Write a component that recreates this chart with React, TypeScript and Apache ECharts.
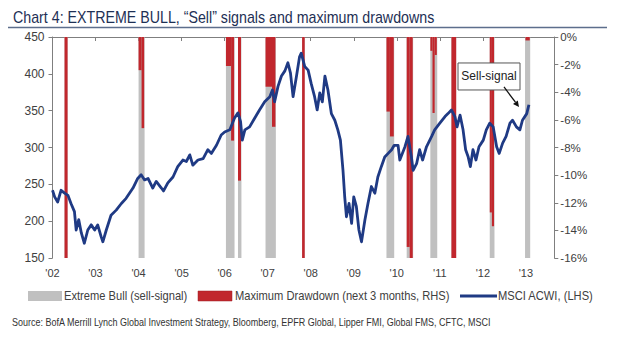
import React, { useEffect, useRef } from "react";
import * as echarts from "echarts";

// MSCI ACWI (LHS) – time in decimal years, index level
const lineYears = [
  2002.0, 2002.05, 2002.12, 2002.2, 2002.28, 2002.36, 2002.43, 2002.51, 2002.55, 2002.61, 2002.67, 2002.74,
  2002.82, 2002.9, 2002.98, 2003.05, 2003.13, 2003.17, 2003.25, 2003.36, 2003.48, 2003.6, 2003.71, 2003.87,
  2003.98, 2004.06, 2004.14, 2004.22, 2004.33, 2004.41, 2004.53, 2004.58, 2004.68, 2004.8, 2004.91, 2005.03,
  2005.11, 2005.19, 2005.26, 2005.38, 2005.5, 2005.61, 2005.69, 2005.81, 2005.92, 2006.0, 2006.12, 2006.23,
  2006.31, 2006.37, 2006.41, 2006.47, 2006.58, 2006.7, 2006.81, 2006.93, 2007.05, 2007.11, 2007.16, 2007.24,
  2007.32, 2007.4, 2007.47, 2007.53, 2007.59, 2007.67, 2007.74, 2007.78, 2007.86, 2007.94, 2008.01, 2008.09,
  2008.15, 2008.21, 2008.27, 2008.33, 2008.4, 2008.48, 2008.56, 2008.63, 2008.69, 2008.75, 2008.79, 2008.83,
  2008.89, 2008.95, 2009.0, 2009.06, 2009.12, 2009.18, 2009.26, 2009.33, 2009.41, 2009.49, 2009.56, 2009.64,
  2009.72, 2009.8, 2009.88, 2009.94, 2010.03, 2010.07, 2010.19, 2010.26, 2010.34, 2010.38, 2010.46, 2010.53,
  2010.6, 2010.69, 2010.81, 2010.88, 2011.0, 2011.12, 2011.19, 2011.27, 2011.35, 2011.4, 2011.47, 2011.54,
  2011.6, 2011.66, 2011.71, 2011.77, 2011.84, 2011.91, 2012.01, 2012.08, 2012.16, 2012.24, 2012.32, 2012.38,
  2012.46, 2012.54, 2012.63, 2012.69, 2012.78, 2012.86, 2012.92, 2013.02, 2013.07,
];
const lineValues = [
  242, 233, 226, 242, 238, 235, 224, 213, 188, 202, 184, 170,
  188, 195, 188, 195, 179, 172, 188, 208, 215, 224, 231, 245,
  258, 263, 256, 258, 245, 254, 245, 241, 252, 260, 274, 283,
  281, 290, 276, 283, 285, 297, 292, 303, 317, 321, 324, 340,
  347, 335, 310, 324, 328, 340, 351, 362, 369, 378, 362, 383,
  397, 404, 415, 401, 369, 397, 423, 428, 410, 405, 387, 369,
  351, 374, 362, 397, 378, 346, 337, 324, 310, 269, 233, 206,
  224, 197, 233, 220, 188, 172, 202, 224, 247, 238, 260, 274,
  287, 292, 297, 303, 303, 283, 301, 315, 287, 269, 278, 297,
  283, 301, 315, 324, 333, 342, 346, 351, 342, 328, 344, 324,
  297, 287, 274, 297, 283, 301, 310, 324, 333, 328, 301, 292,
  306, 315, 333, 337, 328, 324, 337, 346, 358,
];

// Extreme Bull (sell-signal) periods: [start, end]
const bullStarts = [2002.28, 2004.0, 2006.03, 2006.31, 2006.95, 2007.8, 2009.76, 2010.23, 2010.78, 2011.27, 2012.16, 2012.98];
const bullEnds = [2002.35, 2004.14, 2006.23, 2006.39, 2007.19, 2007.86, 2009.94, 2010.38, 2010.94, 2011.38, 2012.27, 2013.1];

// Maximum drawdown (next 3 months, RHS, %): [start, end, drawdown]
const ddStarts = [2002.28, 2004.0, 2004.07, 2006.03, 2006.15, 2006.31, 2006.95, 2007.1, 2007.8, 2009.76, 2009.84, 2010.23, 2010.3, 2010.78, 2010.83, 2010.88, 2011.27, 2012.16, 2012.21, 2012.99];
const ddEnds = [2002.35, 2004.07, 2004.13, 2006.15, 2006.22, 2006.38, 2007.1, 2007.18, 2007.86, 2009.84, 2009.93, 2010.3, 2010.37, 2010.83, 2010.88, 2010.93, 2011.38, 2012.21, 2012.26, 2013.09];
const ddValues = [-16, -2.4, -6.6, -2.1, -7.5, -10.4, -3.6, -6.5, -16, -5.4, -7.2, -15.2, -16, -1.0, -5.5, -1.3, -16, -12.7, -13.7, -0.25];

const xTickYears = [2002, 2003, 2004, 2005, 2006, 2007, 2008, 2009, 2010, 2011, 2012, 2013];

// point the "Sell-signal" arrow at (year, index level)
const sellSignalPoint = [2012.84, 355];

const titleText = "Chart 4: EXTREME BULL, \u201cSell\u201d signals and maximum drawdowns";
const sourceText = "Source: BofA Merrill Lynch Global Investment Strategy, Bloomberg, EPFR Global, Lipper FMI, Global FMS, CFTC, MSCI";
const legendNames = ["Extreme Bull (sell-signal)", "Maximum Drawdown (next 3 months, RHS)", "MSCI ACWI, (LHS)"];

const GRAY = "#c0c0c0";
const RED = "#c1272d";
const NAVY = "#1f3a84";
const FONT = "Liberation Sans, Arial, sans-serif";

export default function App() {
  const ref = useRef<HTMLDivElement>(null);
  useEffect(() => {
    if (!ref.current) return;
    const chart = echarts.init(ref.current, null, { renderer: "svg" });
    const bullData = bullStarts.map((s, i) => [s, bullEnds[i], -16]);
    const ddData = ddStarts.map((s, i) => [s, ddEnds[i], ddValues[i]]);
    const lineData = lineYears.map((y, i) => [y, lineValues[i]]);
    const rectRender = (color: string) => (params: any, api: any) => {
      const p0 = api.coord([api.value(0), 0]);
      const p1 = api.coord([api.value(1), api.value(2)]);
      return {
        type: "rect",
        shape: { x: p0[0], y: p0[1], width: Math.max(p1[0] - p0[0], 1), height: p1[1] - p0[1] },
        style: { fill: color },
      };
    };
    const axisGray = "#7f7f7f";
    const labelColor = "#404040";
    chart.setOption({
      animation: false,
      grid: { left: 52.5, right: 85.7, top: 37, bottom: 80 },
      xAxis: {
        type: "value",
        min: 2002,
        max: 2013.66,
        interval: 1,
        axisLine: { show: true, lineStyle: { color: axisGray, width: 1 } },
        axisTick: { show: true, length: 4, lineStyle: { color: axisGray } },
        splitLine: { show: false },
        axisLabel: {
          showMaxLabel: false,
          margin: 9,
          color: labelColor,
          fontSize: 11,
          fontFamily: FONT,
          formatter: (v: number) => (xTickYears.includes(Math.round(v)) ? "'" + String(Math.round(v)).slice(2) : ""),
        },
      },
      yAxis: [
        {
          type: "value",
          min: 150,
          max: 450,
          interval: 50,
          position: "left",
          axisLine: { show: true, lineStyle: { color: axisGray } },
          axisTick: { show: true, length: 4, lineStyle: { color: axisGray } },
          splitLine: { show: false },
          axisLabel: { color: labelColor, fontSize: 12, fontFamily: FONT, margin: 8 },
        },
        {
          type: "value",
          min: -16,
          max: 0,
          interval: 2,
          position: "right",
          axisLine: { show: true, lineStyle: { color: axisGray } },
          axisTick: { show: true, length: 4, lineStyle: { color: axisGray } },
          splitLine: { show: false },
          axisLabel: { color: labelColor, fontSize: 11.5, fontFamily: FONT, margin: 6, formatter: (v: number) => v + "%" },
        },
      ],
      series: [
        {
          type: "custom",
          name: legendNames[0],
          xAxisIndex: 0,
          yAxisIndex: 1,
          encode: { x: [0, 1], y: 2 },
          renderItem: rectRender(GRAY),
          data: bullData,
          clip: true,
          z: 1,
        },
        {
          type: "custom",
          name: legendNames[1],
          xAxisIndex: 0,
          yAxisIndex: 1,
          encode: { x: [0, 1], y: 2 },
          renderItem: rectRender(RED),
          data: ddData,
          clip: true,
          z: 2,
        },
        {
          type: "line",
          name: legendNames[2],
          xAxisIndex: 0,
          yAxisIndex: 0,
          data: lineData,
          showSymbol: false,
          symbol: "none",
          lineStyle: { color: NAVY, width: 2.8, join: "round" },
          z: 3,
        },
      ],
    });

    const tip = chart.convertToPixel({ xAxisIndex: 0, yAxisIndex: 0 }, sellSignalPoint) as number[];
    const tail = [tip[0] - 15, tip[1] - 20];
    const len = Math.hypot(tip[0] - tail[0], tip[1] - tail[1]);
    const ux = (tip[0] - tail[0]) / len;
    const uy = (tip[1] - tail[1]) / len;
    const bx = tip[0] - ux * 6;
    const by = tip[1] - uy * 6;
    const head = [
      [tip[0], tip[1]],
      [bx - uy * 3, by + ux * 3],
      [bx + uy * 3, by - ux * 3],
    ];
    const boxW = 62;
    const boxH = 27;
    const boxX = tail[0] - 46;
    const boxY = tail[1] - 24;

    const legendText = (x: number, text: string) => ({
      type: "text",
      x,
      y: 296,
      scaleX: 0.93,
      style: { text, fontSize: 12, fontFamily: FONT, fill: "#404040", verticalAlign: "middle" },
    });

    chart.setOption({
      graphic: [
        {
          type: "text",
          x: 13,
          y: 17,
          scaleX: 0.89,
          style: { text: titleText, fontSize: 16, fontFamily: FONT, fill: "#1e3055", verticalAlign: "middle" },
        },
        { type: "line", shape: { x1: 8, y1: 27.5, x2: 607, y2: 27.5 }, style: { stroke: "#5d6e8c", lineWidth: 1.5 } },
        // annotation
        {
          type: "rect",
          shape: { x: boxX, y: boxY, width: boxW, height: boxH },
          style: { fill: "#ffffff", stroke: "#555555", lineWidth: 1 },
          z: 10,
        },
        {
          type: "text",
          x: boxX + boxW / 2,
          y: boxY + boxH / 2,
          style: { text: "Sell-signal", fontSize: 12, fontFamily: FONT, fill: "#222222", align: "center", verticalAlign: "middle" },
          z: 11,
        },
        {
          type: "line",
          shape: { x1: tail[0], y1: tail[1], x2: bx, y2: by },
          style: { stroke: "#111111", lineWidth: 1.3 },
          z: 10,
        },
        { type: "polygon", shape: { points: head }, style: { fill: "#111111" }, z: 10 },
        // legend
        { type: "rect", shape: { x: 28, y: 291, width: 34, height: 10 }, style: { fill: GRAY } },
        legendText(64, legendNames[0]),
        { type: "rect", shape: { x: 198, y: 291, width: 34, height: 10 }, style: { fill: RED, stroke: "#9e1f24", lineWidth: 0.5 } },
        legendText(235, legendNames[1]),
        { type: "line", shape: { x1: 460, y1: 296, x2: 497, y2: 296 }, style: { stroke: NAVY, lineWidth: 3 } },
        legendText(498, legendNames[2]),
        // source
        {
          type: "text",
          x: 12,
          y: 322,
          scaleX: 0.9,
          style: { text: sourceText, fontSize: 10, fontFamily: FONT, fill: "#333333", verticalAlign: "middle" },
        },
      ],
    });
    return () => chart.dispose();
  }, []);
  return <div ref={ref} style={{ position: "fixed", left: 0, top: 0, width: 640, height: 338, background: "#fff" }} />;
}
